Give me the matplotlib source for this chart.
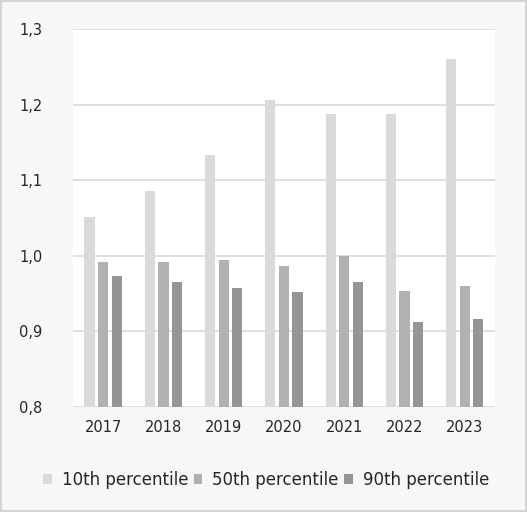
import numpy as np
import matplotlib
matplotlib.use("Agg")
import matplotlib.pyplot as plt
from matplotlib.ticker import FuncFormatter, MultipleLocator

years = ["2017", "2018", "2019", "2020", "2021", "2022", "2023"]
p10 = [1.051, 1.086, 1.133, 1.206, 1.188, 1.188, 1.260]
p50 = [0.992, 0.992, 0.995, 0.987, 1.000, 0.954, 0.960]
p90 = [0.974, 0.966, 0.957, 0.952, 0.966, 0.912, 0.917]
labels = ["10th percentile", "50th percentile", "90th percentile"]
colors = ["#dadada", "#b1b1b1", "#959595"]

plt.rcParams["font.family"] = ["DejaVu Sans"]

fig = plt.figure(figsize=(5.27, 5.12), dpi=100, facecolor="#f7f7f7",
                 edgecolor="#d4d4d4", linewidth=1.5)
ax = fig.add_axes([0.1385, 0.205, 0.8005, 0.738])
ax.set_facecolor("white")

x = np.arange(len(years))
w = 0.17
step = 0.225
for i, (vals, lab, c) in enumerate(zip([p10, p50, p90], labels, colors)):
    ax.bar(x + (i - 1) * step, vals, width=w, color=c, label=lab, zorder=3)

ax.set_ylim(0.8, 1.3)
ax.set_xlim(-0.5, len(years) - 0.5)
ax.yaxis.set_major_locator(MultipleLocator(0.1))
ax.yaxis.set_major_formatter(FuncFormatter(lambda v, p: f"{v:.1f}".replace(".", ",")))
ax.set_xticks(x)
ax.set_xticklabels(years)
ax.grid(axis="y", color="#d9d9d9", linewidth=1.2, zorder=0)
for s in ax.spines.values():
    s.set_visible(False)
ax.tick_params(length=0, labelsize=10.5, colors="#262626")
ax.tick_params(axis="y", pad=22)
ax.tick_params(axis="x", pad=9)

fig.legend(loc="center", bbox_to_anchor=(0.505, 0.063), ncol=3, frameon=False,
           fontsize=12, handlelength=0.5, handleheight=0.5, handletextpad=0.6,
           columnspacing=0.35, labelcolor="#262626")

fig.savefig("out.png", dpi=100, facecolor=fig.get_facecolor(), edgecolor=fig.get_edgecolor())
